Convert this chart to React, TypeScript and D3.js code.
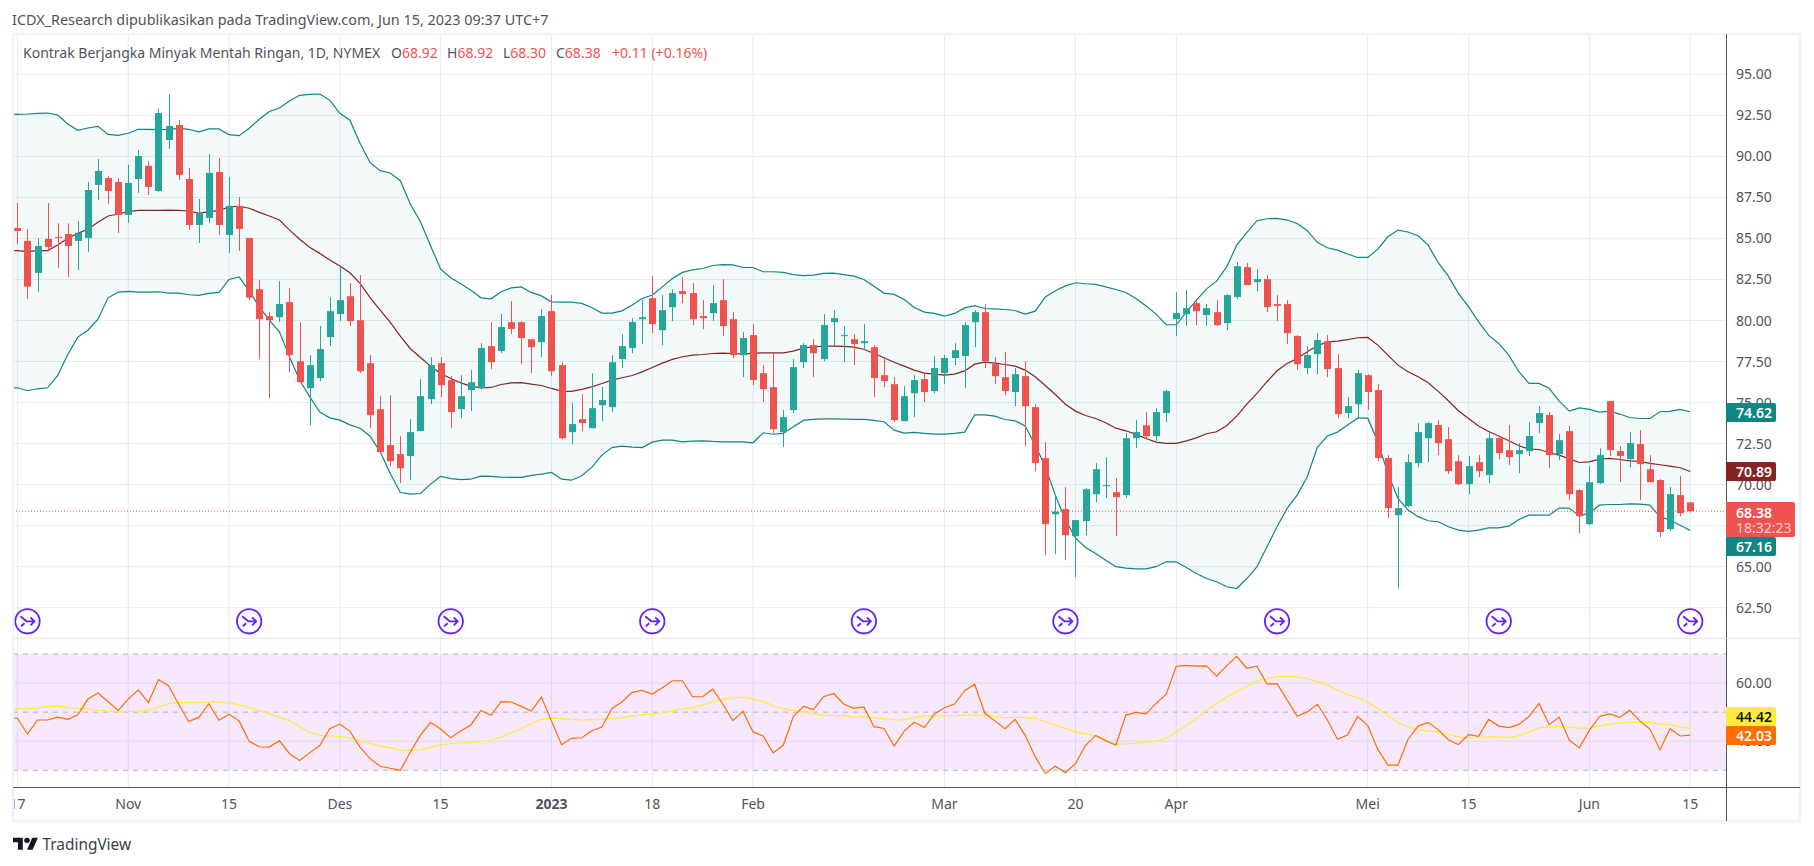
import React from 'react';
import * as d3 from 'd3';

// harian CL1! (NYMEX)
const opens = [85.64,84.85,82.90,84.97,85.09,85.27,84.85,85.03,88.26,88.68,
  88.44,86.43,88.62,89.42,87.89,91.0,91.91,88.62,85.82,86.25,
  89.05,85.21,86.98,85.03,81.91,80.27,80.2,81.12,77.52,75.88,
  76.49,78.99,80.39,81.48,80.02,77.4,74.6,72.41,71.86,71.74,
  73.26,75.21,77.4,76.37,74.6,75.76,75.88,78.44,78.14,79.9,
  79.9,78.86,78.68,80.57,77.28,73.2,73.99,73.44,74.84,74.72,
  77.65,78.32,80.08,81.36,79.41,80.81,81.79,81.67,80.27,80.45,
  81.24,80.08,77.89,79.11,76.79,75.94,73.2,74.54,77.46,78.5,
  77.65,79.9,79.05,78.86,78.62,78.38,76.67,76.12,73.87,75.57,
  76.43,75.7,76.79,77.71,77.83,79.9,80.51,77.34,76.55,75.64,
  76.61,74.72,71.61,68.2,68.51,66.86,67.78,69.42,69.91,69.54,
  69.36,72.83,73.62,72.95,74.36,80.08,80.39,81.06,80.33,80.51,
  79.84,81.43,83.25,82.34,82.52,81.0,81.0,79.05,77.1,77.95,
  78.74,77.1,74.36,74.9,76.67,75.76,71.62,68.14,68.69,71.31,
  72.83,73.63,72.77,71.43,70.03,71.37,70.58,72.83,72.1,71.86,
  72.04,73.75,74.24,71.86,73.26,69.67,67.59,70.09,75.09,72.04,
  71.55,72.47,70.94,70.28,67.29,69.36,68.92];
const closes = [85.45,82.06,84.54,84.48,85.03,84.54,85.35,87.95,89.11,87.89,
  86.43,88.38,90.02,88.14,92.64,91.85,88.87,85.82,86.53,88.99,
  85.82,86.98,85.58,81.39,80.08,80.02,81.0,77.89,76.24,77.28,
  78.26,80.57,81.24,79.96,76.91,74.23,71.98,71.43,71.0,73.2,
  75.39,77.28,76.06,74.42,75.39,76.24,78.32,77.46,79.6,79.48,
  78.93,78.37,80.27,76.91,72.83,73.69,73.75,74.66,75.15,77.46,
  78.44,79.9,80.2,79.78,80.63,81.67,81.61,80.08,80.14,81.06,
  79.66,77.89,78.93,76.37,75.82,73.38,74.11,77.16,78.5,78.01,
  79.72,80.14,79.11,78.56,78.74,76.49,76.31,73.93,75.39,76.37,
  75.64,77.1,77.71,78.19,79.72,80.51,77.52,76.61,75.7,76.73,
  74.78,71.31,67.59,68.36,66.92,67.84,69.72,70.94,69.97,69.24,
  72.83,73.2,72.95,74.42,75.7,80.45,80.75,80.57,80.75,79.72,
  81.55,83.31,82.16,82.52,80.82,80.88,79.23,77.34,77.89,78.81,
  77.04,74.3,74.78,76.79,75.64,71.62,68.57,68.57,71.37,73.2,
  73.75,72.53,70.82,70.03,71.13,70.82,72.83,71.92,71.68,72.1,
  72.96,74.36,71.8,72.71,69.42,68.08,70.15,71.8,72.1,71.74,
  72.53,71.25,70.15,67.11,69.42,68.26,68.38];
const highs = [87.16,85.56,85.0,87.16,85.92,85.92,86.06,88.44,89.84,88.81,
  88.68,89.48,90.39,89.72,92.89,93.8,92.22,89.29,87.4,90.15,
  89.9,88.74,87.53,85.03,82.46,80.51,82.4,81.97,79.9,77.89,
  79.66,81.42,83.31,82.28,82.76,77.89,75.39,75.45,72.95,73.99,
  76.43,77.77,77.77,76.61,76.67,76.98,78.62,79.9,80.39,81.18,
  79.96,78.86,80.69,81.55,77.46,74.97,75.51,76.79,75.94,77.89,
  79.17,80.14,81.24,82.7,81.55,81.91,82.64,82.28,81.24,82.15,
  82.52,80.51,79.29,79.78,77.28,78.01,74.54,77.65,78.62,78.86,
  80.39,80.63,79.66,79.17,79.78,78.5,77.71,76.55,76.0,76.67,
  76.79,77.83,77.89,78.62,79.9,80.63,81.0,77.77,78.07,77.1,
  77.52,74.9,72.59,69.36,69.85,67.84,69.79,71.31,71.67,70.4,
  73.14,73.93,74.42,74.66,75.76,81.73,81.85,81.24,81.0,81.24,
  81.61,83.56,83.5,83.13,82.77,81.55,81.24,79.11,78.44,79.23,
  79.11,77.95,75.33,76.98,76.73,76.12,71.8,69.85,71.86,73.75,
  73.81,73.93,73.5,71.8,71.74,71.8,73.2,72.96,73.63,72.53,
  73.81,74.78,74.42,73.08,73.57,69.73,71.13,72.22,75.09,72.35,
  73.2,73.32,71.8,70.34,69.85,70.52,68.92];
const lows = [84.66,81.31,81.74,84.2,83.2,82.65,83.08,84.18,87.34,87.1,
  85.33,85.94,87.77,87.65,87.83,90.45,88.56,85.52,84.72,85.94,
  85.21,84.11,84.24,81.25,77.65,75.27,79.9,76.85,76.24,73.62,
  76.3,78.44,79.96,79.66,76.79,73.44,71.98,71.13,70.09,70.27,
  73.26,74.9,75.33,73.44,74.05,74.48,75.82,77.04,78.01,79.17,
  77.34,76.79,77.77,76.61,72.77,72.47,73.26,73.44,73.87,74.42,
  77.1,78.01,78.56,79.23,78.5,79.96,81.06,79.72,79.47,79.96,
  79.05,77.71,76.55,76.06,75.03,73.14,72.28,74.36,77.1,76.55,
  77.52,78.44,77.46,77.28,78.19,75.33,75.94,73.81,73.87,74.11,
  75.03,75.57,76.12,77.28,75.88,78.38,77.1,76.12,75.45,74.78,
  72.34,70.82,65.7,65.76,65.4,64.36,66.92,68.93,69.18,66.86,
  69.18,72.22,72.77,72.65,73.81,79.05,79.66,79.72,79.66,79.66,
  79.41,81.3,82.16,81.79,80.51,79.96,78.56,76.98,76.73,76.73,
  76.55,74.05,74.05,74.05,74.54,71.43,67.96,63.69,68.63,71.07,
  71.37,71.8,70.64,69.97,69.42,70.46,70.09,71.55,71.19,70.7,
  71.74,73.14,71.0,71.49,69.06,67.05,67.53,70.03,71.74,70.15,
  71.07,69.06,70.15,66.8,67.17,68.08,68.30];

// Bollinger + RSI mulai satu bar sebelum bar pertama (terpotong di tepi kiri)
const firstIndicatorBar = -1;
const bbUpper = [92.58,92.56,92.58,92.62,92.64,92.52,91.97,91.59,91.73,91.83,91.34,91.28,91.41,91.65,91.65,91.63,91.65,91.71,91.65,91.49,91.67,91.67,
  91.32,91.26,91.71,92.26,92.73,92.95,93.38,93.72,93.78,93.8,93.42,92.62,92.2,90.8,89.62,89.13,88.99,88.52,87.08,86.02,84.56,83.13,82.6,82.24,81.85,
  81.38,81.32,81.75,81.99,82.05,81.71,81.5,81.14,81.12,81.12,81.04,80.79,80.45,80.45,80.59,80.94,81.34,81.55,82.05,82.56,82.93,83.09,83.17,83.35,83.41,
  83.39,83.23,83.23,82.97,82.97,82.93,82.8,82.74,82.76,82.87,82.89,82.8,82.7,82.5,82.09,81.67,81.59,81.28,80.79,80.51,80.43,80.27,80.43,80.77,80.9,
  80.73,80.71,80.67,80.61,80.39,80.57,81.44,81.81,82.11,82.3,82.24,82.2,82.05,81.89,81.71,81.34,80.88,80.39,79.74,79.74,80.51,81.24,81.93,82.4,
  83.27,84.59,85.35,86.08,86.2,86.22,86.12,85.91,85.47,84.76,84.43,84.29,84.05,83.84,83.84,84.35,85.1,85.51,85.39,85.16,84.59,83.52,82.7,81.65,80.84,
  79.92,79.11,78.6,77.89,76.88,76.17,76.17,75.87,75.09,74.48,74.68,74.58,74.42,74.48,74.3,74.09,74.03,74.03,74.44,74.46,74.58,74.44];
const bbBasis = [84.26,84.26,84.2,84.26,84.26,84.6,85.01,85.31,85.56,85.98,86.37,86.49,86.63,86.71,86.71,86.71,86.73,86.71,86.67,86.53,86.63,86.69,
  86.92,86.96,86.84,86.59,86.37,86.12,85.52,84.95,84.46,84.09,83.69,83.32,82.91,82.26,81.4,80.63,79.88,79.05,78.28,77.75,77.22,76.77,76.47,76.2,76.0,
  75.9,75.92,76.1,76.2,76.22,76.12,76.04,75.86,75.7,75.68,75.8,75.96,76.16,76.37,76.51,76.65,76.87,77.14,77.4,77.63,77.79,77.89,77.93,77.99,78.01,
  77.99,77.95,78.01,78.03,78.03,78.03,78.13,78.32,78.4,78.44,78.44,78.42,78.38,78.25,77.99,77.73,77.46,77.22,76.98,76.79,76.73,76.67,76.73,76.93,77.34,
  77.46,77.4,77.32,77.22,76.98,76.57,76.04,75.49,74.9,74.48,74.21,74.03,73.77,73.44,73.28,73.06,72.81,72.59,72.51,72.51,72.67,72.85,73.1,73.22,
  73.59,74.17,74.91,75.56,76.27,76.94,77.38,77.69,78.09,78.46,78.7,78.74,78.83,78.95,78.97,78.5,77.89,77.28,76.88,76.57,76.21,75.68,75.11,74.5,74.03,
  73.57,73.24,72.96,72.67,72.37,72.16,72.14,71.96,71.8,71.57,71.35,71.39,71.55,71.6,71.53,71.45,71.41,71.29,71.21,71.13,71.03,70.8];
const bbLower = [75.9,75.9,75.72,75.84,75.9,76.65,77.93,78.99,79.41,80.08,81.38,81.73,81.77,81.73,81.73,81.75,81.67,81.67,81.57,81.53,81.65,81.71,
  82.5,82.66,81.81,80.83,80.02,79.31,77.79,76.37,75.36,74.42,74.07,73.93,73.64,73.44,72.95,72.0,70.68,69.52,69.42,69.46,70.03,70.5,70.37,70.31,70.33,
  70.52,70.5,70.46,70.44,70.44,70.56,70.64,70.74,70.33,70.27,70.54,71.05,71.8,72.26,72.34,72.28,72.26,72.59,72.71,72.71,72.61,72.65,72.67,72.63,72.61,
  72.61,72.61,72.55,73.16,73.07,73.12,73.52,73.91,73.97,74.01,74.01,73.99,73.97,73.97,73.91,73.83,73.32,73.14,73.18,73.12,73.08,73.08,73.12,73.2,74.25,
  74.25,74.17,73.97,73.89,73.58,72.41,71.09,69.36,67.84,66.76,66.17,65.81,65.4,65.0,64.91,64.87,64.87,65.0,65.3,65.3,64.95,64.59,64.28,64.08,
  63.78,63.67,64.28,64.99,66.21,67.43,68.55,69.36,70.48,72.27,72.96,73.2,73.63,74.05,74.05,72.61,70.68,69.16,68.45,68.05,67.8,67.74,67.43,67.23,67.15,
  67.23,67.37,67.37,67.47,67.88,68.14,68.14,68.14,68.57,68.57,68.08,68.28,68.75,68.79,68.79,68.83,68.81,68.75,68.04,67.84,67.53,67.21];
const rsiValues = [48.2,47.9,42.5,47.3,47.3,48.3,47.5,49.1,54.5,56.6,53.6,50.6,54.5,57.7,53.3,61.2,59.1,52.8,46.8,48.2,52.9,47.2,49.3,47.0,40.0,38.1,38.0,40.2,35.7,33.4,36.0,38.5,
  44.3,45.9,43.4,38.0,34.0,31.4,30.7,30.0,36.3,42.1,46.5,44.2,41.2,43.5,45.6,50.6,48.9,53.6,53.5,52.0,50.4,55.1,47.0,38.8,41.0,41.2,43.6,44.9,51.2,53.6,56.8,57.5,56.2,58.4,60.8,60.8,
  55.3,55.3,57.9,52.8,47.1,50.3,43.2,41.8,36.0,38.6,48.5,52.0,50.9,55.3,56.4,52.8,51.3,51.8,45.0,44.4,38.3,43.5,46.5,44.7,49.4,51.5,52.8,57.4,59.6,49.6,47.0,44.3,47.5,42.1,34.7,
  28.9,31.4,29.2,32.3,38.6,42.0,40.2,38.6,49.0,49.9,49.4,53.0,56.2,65.8,66.1,65.8,65.9,62.4,65.9,69.2,65.1,65.8,59.7,59.8,54.2,48.6,50.1,52.7,47.3,40.7,42.1,48.5,45.4,37.2,31.8,31.8,
  40.7,45.2,46.5,43.9,40.5,38.9,42.3,41.7,47.5,45.2,44.7,45.8,48.5,53.0,45.7,48.3,40.4,37.7,43.8,48.5,49.4,48.2,50.6,47.0,44.2,37.1,44.3,41.8,42.1];
const rsiMa = [51.0,51.1,51.2,51.4,52.0,52.1,51.7,51.3,51.1,50.6,50.4,50.1,50.2,50.4,50.7,51.7,52.9,53.3,53.3,53.3,53.6,53.5,53.2,52.5,51.5,50.5,49.4,48.2,47.1,45.0,43.1,42.0,
  41.8,41.7,41.1,40.3,39.3,38.4,37.7,37.0,36.9,37.0,37.9,38.7,39.2,39.4,39.5,39.9,40.2,41.5,43.0,44.4,46.0,47.5,48.0,47.8,47.4,47.3,47.4,47.5,47.8,48.1,48.7,49.1,49.3,49.7,50.5,51.0,
  51.5,52.5,53.6,54.5,54.9,55.2,54.5,53.7,52.3,51.1,50.6,50.1,49.3,49.0,48.9,48.7,48.3,48.3,48.1,47.8,47.3,47.4,48.2,48.7,48.7,48.7,48.8,49.0,49.1,49.0,48.5,48.1,48.2,48.1,47.8,
  46.7,45.6,44.4,43.3,42.5,41.8,40.3,38.9,39.1,39.3,39.6,40.0,41.1,43.1,45.4,47.7,50.7,53.0,55.1,57.0,58.8,60.7,61.5,62.2,62.3,62.1,61.5,60.6,59.3,57.6,56.0,55.0,53.4,51.2,48.8,46.5,
  44.9,44.0,43.5,43.2,42.4,41.5,41.1,41.2,41.6,41.5,41.3,41.9,43.2,44.6,45.0,45.1,44.8,44.4,44.6,45.2,45.9,46.3,46.5,46.5,46.5,45.9,45.6,44.8,44.4];

const priceTicks = [95, 92.5, 90, 87.5, 85, 82.5, 80, 77.5, 75, 72.5, 70, 67.5, 65, 62.5];
const rsiGrid = [60, 40];
const rsiBands = [70, 50, 30];
const timeTicks: [number, string][] = [[0, '17'], [11, 'Nov'], [21, '15'], [32, 'Des'], [42, '15'], [53, '2023'], [63, '18'], [73, 'Feb'], [92, 'Mar'], [105, '20'], [115, 'Apr'], [134, 'Mei'], [144, '15'], [156, 'Jun'], [166, '15']];
const eventBars = [1, 23, 43, 63, 84, 104, 125, 147, 166];

const FONT = '"Noto Sans", sans-serif';
const UP = '#26a69a';
const DOWN = '#ef5350';
const TEAL = '#138484';
const MAROON = '#872323';
const GRID = '#e4edf3';
const FRAME = '#f0f3fa';
const AXIS = '#50535e';

const left = 13;
const right = 1726;
const outer = 1800;

const x = d3.scaleLinear().domain([0, 166]).range([17.4, 1690.2]);
const y = d3.scaleLinear().domain([95, 65]).range([74.3, 566.7]);
const yRsi = d3.scaleLinear().domain([70, 30]).range([654, 770.3]);

const priceLine = d3.line<number>().x((_, i) => x(i + firstIndicatorBar)).y(d => y(d));
const rsiLine = d3.line<number>().x((_, i) => x(i + firstIndicatorBar)).y(d => yRsi(d));
const bandArea = d3.area<number>()
  .x((_, i) => x(i + firstIndicatorBar))
  .y0((_, i) => y(bbLower[i]))
  .y1(d => y(d));

const Tag = ({ y0, h, w = 50, fill, color = '#fff', label }: { y0: number; h: number; w?: number; fill: string; color?: string; label: string }) => (
  <g>
    <path d={`M${right} ${y0}h${w - 2}a2 2 0 0 1 2 2v${h - 4}a2 2 0 0 1 -2 2h-${w - 2}z`} fill={fill} />
    <text x={right + 10} y={y0 + h / 2 + 5} fontSize={14} fontWeight={600} fill={color}>{label}</text>
  </g>
);

export default function App() {
  const last = closes[closes.length - 1];
  return (
    <svg width={1814} height={866} style={{ position: 'absolute', left: 0, top: 0, background: '#fff' }} fontFamily={FONT}>
      <defs>
        <clipPath id="pane"><rect x={left} y={33} width={right - left} height={788} /></clipPath>
      </defs>

      <text x={12} y={25} fontSize={14.4} fill="#50535e">ICDX_Research dipublikasikan pada TradingView.com, Jun 15, 2023 09:37 UTC+7</text>

      <g clipPath="url(#pane)">
        {/* grid */}
        {priceTicks.map(t => <line key={t} x1={left} x2={right} y1={y(t)} y2={y(t)} stroke={GRID} strokeWidth={1} />)}
        {timeTicks.map(([b, l], i) => <line key={i} x1={x(b)} x2={x(b)} y1={33} y2={787} stroke={GRID} strokeWidth={1} />)}
        <line x1={left} x2={right} y1={638.3} y2={638.3} stroke="#e0e3eb" strokeWidth={1} />

        {/* RSI */}
        <rect x={left} y={yRsi(70)} width={right - left} height={yRsi(30) - yRsi(70)} fill="#c95cf2" fillOpacity={0.14} />
        {rsiGrid.map(t => <line key={t} x1={left} x2={right} y1={yRsi(t)} y2={yRsi(t)} stroke="#dfd8ec" strokeWidth={1} />)}
        {rsiBands.map(t => <line key={t} x1={left} x2={right} y1={yRsi(t)} y2={yRsi(t)} stroke="#b2b5be" strokeWidth={1} strokeDasharray="5 5" />)}
        <path d={rsiLine(rsiMa) || ''} fill="none" stroke="#ffeb3b" strokeWidth={1.2} />
        <path d={rsiLine(rsiValues) || ''} fill="none" stroke="#ff6d00" strokeWidth={1.2} />

        {/* Bollinger */}
        <path d={bandArea(bbUpper) || ''} fill="#138484" fillOpacity={0.05} />
        <path d={priceLine(bbUpper) || ''} fill="none" stroke={TEAL} strokeWidth={1.2} />
        <path d={priceLine(bbLower) || ''} fill="none" stroke={TEAL} strokeWidth={1.2} />
        <path d={priceLine(bbBasis) || ''} fill="none" stroke={MAROON} strokeWidth={1.2} />

        {/* candles */}
        {opens.map((o, i) => {
          const c = closes[i];
          const col = c >= o ? UP : DOWN;
          const cx = Math.round(x(i));
          const top = y(Math.max(o, c));
          const bottom = y(Math.min(o, c));
          return (
            <g key={i}>
              <line x1={cx + 0.5} x2={cx + 0.5} y1={y(highs[i])} y2={y(lows[i])} stroke={col} strokeWidth={1} />
              <rect x={cx - 3} y={top} width={7} height={Math.max(bottom - top, 1)} fill={col} />
            </g>
          );
        })}

        <line x1={left} x2={right} y1={y(last)} y2={y(last)} stroke={DOWN} strokeWidth={1} strokeDasharray="1 2" />

        {/* event icons */}
        {eventBars.map(b => (
          <g key={b} transform={`translate(${x(b)},621.3)`} fill="none" stroke="#651fff" strokeWidth={1.8}>
            <circle r={12.2} fill="#fff" />
            <path d="M-7 -5L-1 0H7M3 -4L7 0L3 4M-6.5 5L-3 2" strokeWidth={1.8} />
          </g>
        ))}

        {/* time labels */}
        {timeTicks.map(([b, l], i) => (
          <text key={i} x={x(b)} y={809} textAnchor="middle" fontSize={14} fontWeight={l === '2023' ? 700 : 400} fill={AXIS}>{l}</text>
        ))}
      </g>

      {/* legend */}
      <text y={58} fontSize={14}>
        <tspan x={23} fill="#50535e">Kontrak Berjangka Minyak Mentah Ringan, 1D, NYMEX</tspan>
        <tspan x={391} fill="#50535e">O</tspan><tspan fill={DOWN}>68.92</tspan>
        <tspan x={447} fill="#50535e">H</tspan><tspan fill={DOWN}>68.92</tspan>
        <tspan x={503} fill="#50535e">L</tspan><tspan fill={DOWN}>68.30</tspan>
        <tspan x={556} fill="#50535e">C</tspan><tspan fill={DOWN}>68.38</tspan>
        <tspan x={612} fill={DOWN}>+0.11 (+0.16%)</tspan>
      </text>

      {/* frame + axes */}
      <rect x={13} y={34} width={outer - 13} height={787} fill="none" stroke={FRAME} strokeWidth={2.5} />
      <line x1={right + 0.5} x2={right + 0.5} y1={34} y2={821} stroke={AXIS} strokeWidth={1} />
      <line x1={left} x2={outer} y1={787.5} y2={787.5} stroke={AXIS} strokeWidth={1} />
      <line x1={right} x2={outer} y1={638.3} y2={638.3} stroke="#e0e3eb" strokeWidth={1} />

      {priceTicks.map(t => <text key={t} x={right + 10} y={y(t) + 5} fontSize={14} fill={AXIS}>{t.toFixed(2)}</text>)}
      {rsiGrid.map(t => <text key={t} x={right + 10} y={yRsi(t) + 5} fontSize={14} fill={AXIS}>{t.toFixed(2)}</text>)}

      <Tag y0={403} h={19} fill={TEAL} label="74.62" />
      <Tag y0={462} h={19} fill={MAROON} label="70.89" />
      <g>
        <path d={`M${right} 502h67a2 2 0 0 1 2 2v31a2 2 0 0 1 -2 2h-67z`} fill={DOWN} />
        <text x={right + 10} y={518} fontSize={14} fontWeight={600} fill="#fff">68.38</text>
        <text x={right + 10} y={533} fontSize={14} fill="#ffd0ce">18:32:23</text>
      </g>
      <Tag y0={537} h={19} fill={TEAL} label="67.16" />
      <Tag y0={707} h={19} fill="#ffeb3b" color="#131722" label="44.42" />
      <Tag y0={726} h={19} fill="#ff6d00" label="42.03" />

      {/* logo */}
      <g transform="translate(13,835) scale(0.7,0.67)" fill="#131722">
        <path d="M14 22H7V11H0V4h14v18zM28 22h-8l7.5-18h8L28 22z" />
        <circle cx={20} cy={8} r={4} />
      </g>
      <text x={42.5} y={850} fontSize={15.4} fill="#3c3f48">TradingView</text>
    </svg>
  );
}
